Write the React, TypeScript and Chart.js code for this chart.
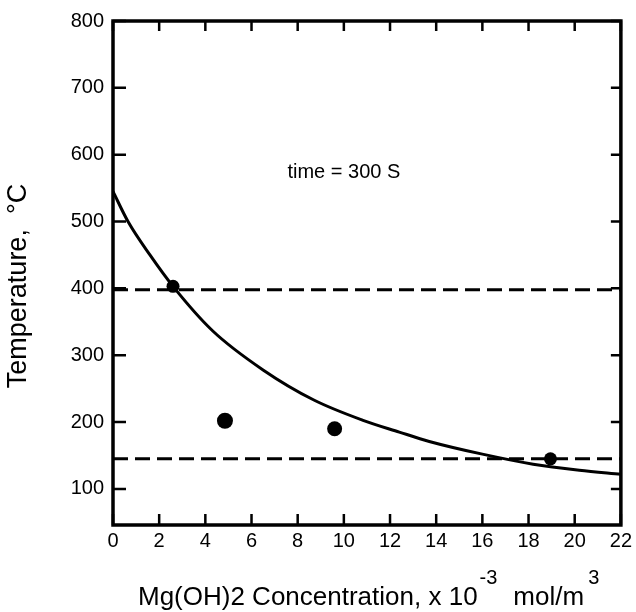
import { useEffect, useRef } from "react";
import { Chart, registerables } from "chart.js";

Chart.register(...registerables);

const X_MIN = 0;
const X_MAX = 22;
const Y_MIN = 46;
const Y_MAX = 800;
const X_TICKS = [0, 2, 4, 6, 8, 10, 12, 14, 16, 18, 20, 22];
const Y_TICKS = [100, 200, 300, 400, 500, 600, 700, 800];

const CURVE_X = [0, 0.65, 1.6, 2.6, 4.3, 6.5, 8.7, 10.8, 12.4, 13.7, 16, 18.2, 20.2, 22];
const CURVE_Y = [545, 500, 450, 403, 337, 278, 233, 203, 185, 171, 152, 137, 128, 122];

const POINT_X = [2.6, 4.85, 9.6, 18.95];
const POINT_Y = [403, 202, 190, 145];
const POINT_R = [6.5, 8, 7.5, 6.5];

const UPPER_LIMIT = 398;
const LOWER_LIMIT = 145;

const ANNOTATION_TEXT = "time = 300 S";
const ANNOTATION_X = 10;
const ANNOTATION_Y = 573;

const Y_TITLE = "Temperature,  \u00B0C";
const X_TITLE_PARTS = [
  { text: "Mg(OH)2 Concentration, x 10", sup: false, gap: 2 },
  { text: "-3", sup: true, gap: 16 },
  { text: "mol/m", sup: false, gap: 4 },
  { text: "3", sup: true, gap: 0 },
];

const FONT = '"Liberation Sans", Arial, Helvetica, sans-serif';

const decorPlugin = {
  id: "decor",
  afterDraw(chart: any) {
    const ctx = chart.ctx;
    const { left, right, top, bottom } = chart.chartArea;
    const xs = chart.scales.x;
    const ys = chart.scales.y;
    ctx.save();
    ctx.strokeStyle = "#000";
    ctx.fillStyle = "#000";
    ctx.lineWidth = 3.5;
    ctx.strokeRect(left, top, right - left, bottom - top);
    ctx.lineWidth = 2.5;
    ctx.beginPath();
    for (const v of X_TICKS) {
      const px = xs.getPixelForValue(v);
      ctx.moveTo(px, bottom);
      ctx.lineTo(px, bottom - 11);
      ctx.moveTo(px, top);
      ctx.lineTo(px, top + 10);
    }
    for (const v of Y_TICKS) {
      const py = ys.getPixelForValue(v);
      ctx.moveTo(left, py);
      ctx.lineTo(left + 13, py);
      ctx.moveTo(right, py);
      ctx.lineTo(right - 10, py);
    }
    ctx.stroke();

    // annotation
    ctx.font = `20px ${FONT}`;
    ctx.textAlign = "center";
    ctx.textBaseline = "middle";
    ctx.fillText(ANNOTATION_TEXT, xs.getPixelForValue(ANNOTATION_X), ys.getPixelForValue(ANNOTATION_Y));

    // x title
    const mainFont = `26px ${FONT}`;
    const supFont = `20px ${FONT}`;
    ctx.textAlign = "left";
    ctx.textBaseline = "alphabetic";
    let x = 138;
    const base = 605;
    for (const p of X_TITLE_PARTS) {
      ctx.font = p.sup ? supFont : mainFont;
      ctx.fillText(p.text, x, p.sup ? base - 21 : base);
      x += ctx.measureText(p.text).width + p.gap;
    }

    // y title
    ctx.translate(26, 286);
    ctx.rotate(-Math.PI / 2);
    ctx.font = `27px ${FONT}`;
    ctx.textAlign = "center";
    ctx.fillText(Y_TITLE, 0, 0);
    ctx.restore();
  },
};

export default function App() {
  const ref = useRef<HTMLCanvasElement | null>(null);
  useEffect(() => {
    if (!ref.current) return;
    const curve = CURVE_X.map((x, i) => ({ x, y: CURVE_Y[i] }));
    const points = POINT_X.map((x, i) => ({ x, y: POINT_Y[i] }));
    const chart = new Chart(ref.current, {
      type: "scatter",
      data: {
        datasets: [
          {
            type: "line",
            data: curve,
            borderColor: "#000",
            borderWidth: 3,
            pointRadius: 0,
            cubicInterpolationMode: "monotone",
            fill: false,
          },
          {
            type: "line",
            data: [{ x: X_MIN, y: UPPER_LIMIT }, { x: X_MAX, y: UPPER_LIMIT }],
            borderColor: "#000",
            borderWidth: 3,
            borderDash: [15, 7],
            pointRadius: 0,
            fill: false,
          },
          {
            type: "line",
            data: [{ x: X_MIN, y: LOWER_LIMIT }, { x: X_MAX, y: LOWER_LIMIT }],
            borderColor: "#000",
            borderWidth: 3,
            borderDash: [15, 7],
            pointRadius: 0,
            fill: false,
          },
          {
            data: points,
            backgroundColor: "#000",
            borderColor: "#000",
            pointRadius: POINT_R,
            borderWidth: 0,
          },
        ],
      } as any,
      options: {
        animation: false,
        responsive: false,
        maintainAspectRatio: false,
        layout: { padding: { top: 20, right: 14, left: 0, bottom: 0 } },
        plugins: { legend: { display: false }, tooltip: { enabled: false } },
        scales: {
          x: {
            type: "linear",
            min: X_MIN,
            max: X_MAX,
            afterBuildTicks: (s: any) => {
              s.ticks = X_TICKS.map((v) => ({ value: v }));
            },
            afterFit: (s: any) => {
              s.height = 87;
            },
            grid: { display: false, drawTicks: false },
            border: { display: false },
            ticks: {
              color: "#000",
              padding: 4,
              maxRotation: 0,
              autoSkip: false,
              font: { size: 20, family: FONT },
            },
          },
          y: {
            type: "linear",
            min: Y_MIN,
            max: Y_MAX,
            afterBuildTicks: (s: any) => {
              s.ticks = Y_TICKS.map((v) => ({ value: v }));
            },
            afterFit: (s: any) => {
              s.width = 113;
            },
            grid: { display: false, drawTicks: false },
            border: { display: false },
            ticks: {
              color: "#000",
              padding: 9,
              autoSkip: false,
              font: { size: 20, family: FONT },
            },
          },
        },
      } as any,
      plugins: [decorPlugin],
    });
    return () => chart.destroy();
  }, []);
  return (
    <div style={{ position: "fixed", left: 0, top: 0, width: 636, height: 612, background: "#fff" }}>
      <canvas ref={ref} width={636} height={612} style={{ width: 636, height: 612 }} />
    </div>
  );
}
